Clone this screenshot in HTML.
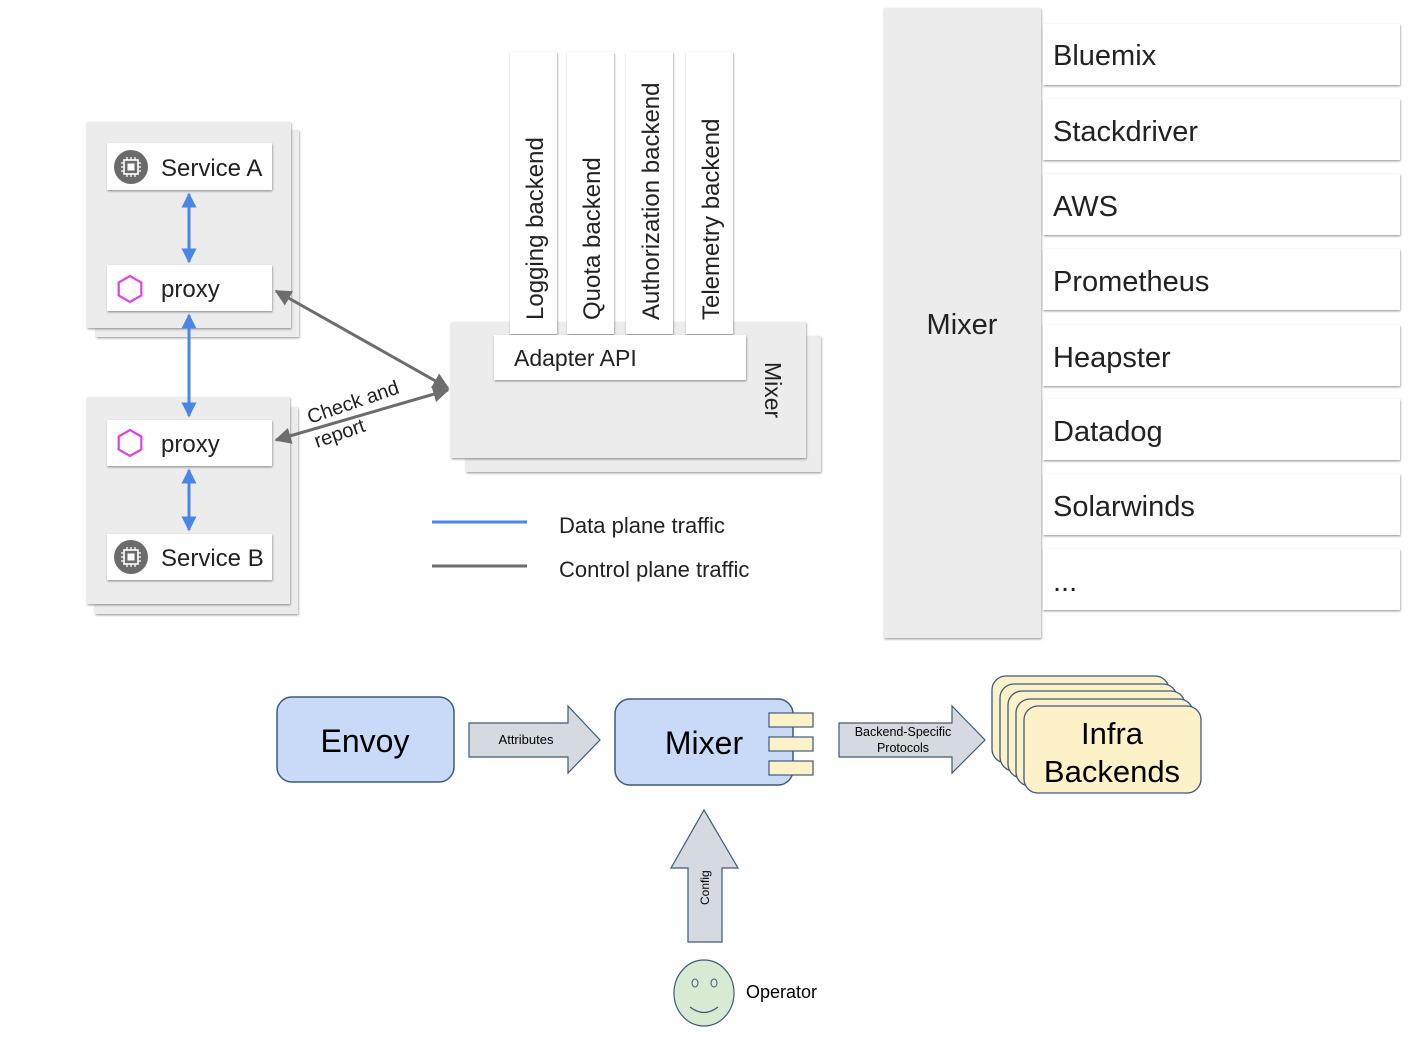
<!DOCTYPE html>
<html><head><meta charset="utf-8"><style>
html,body{margin:0;padding:0;background:#fff}
svg{display:block}
text{font-family:"Liberation Sans",sans-serif;fill:#222}
</style></head><body>
<svg width="1422" height="1057" viewBox="0 0 1422 1057" xmlns="http://www.w3.org/2000/svg">
<defs>
<filter id="sh" x="-10%" y="-10%" width="120%" height="120%"><feDropShadow dx="0.5" dy="1.2" stdDeviation="1" flood-color="#000" flood-opacity="0.4"/></filter>
<marker id="ab" viewBox="0 0 10 10" refX="9" refY="5" markerWidth="5" markerHeight="5" orient="auto-start-reverse"><path d="M0,0L10,5L0,10z" fill="#4a86e8"/></marker>
<marker id="ag" viewBox="0 0 10 10" refX="9" refY="5" markerWidth="5.5" markerHeight="5.5" orient="auto-start-reverse"><path d="M0,0L10,5L0,10z" fill="#6d6d6d"/></marker>
<g id="chip"><circle r="17" fill="#6b6b6b"/><rect x="-7" y="-7" width="14" height="14" fill="none" stroke="#fff" stroke-width="1.6"/><rect x="-3.5" y="-3.5" width="7" height="7" fill="#fff"/><path d="M-4,-10v3M0,-10v3M4,-10v3M-4,7v3M0,7v3M4,7v3M-10,-4h3M-10,0h3M-10,4h3M7,-4h3M7,0h3M7,4h3" stroke="#fff" stroke-width="1.3"/></g>
<g id="hex"><polygon points="0,-13 11.3,-6.5 11.3,6.5 0,13 -11.3,6.5 -11.3,-6.5" fill="none" stroke="#e040e8" stroke-width="2.2"/></g>
</defs>

<rect x="96" y="130" width="203" height="207" fill="#ececec" filter="url(#sh)"/>
<rect x="87" y="122" width="204" height="206" fill="#ececec" filter="url(#sh)"/>
<rect x="95" y="407" width="203" height="207" fill="#ececec" filter="url(#sh)"/>
<rect x="87" y="397" width="203" height="207" fill="#ececec" filter="url(#sh)"/>

<rect x="107" y="143" width="165" height="47" fill="#fff" filter="url(#sh)"/>
<use href="#chip" x="131" y="167"/>
<text x="161" y="176" font-size="24">Service A</text>
<rect x="107" y="265" width="165" height="46" fill="#fff" filter="url(#sh)"/>
<use href="#hex" x="130" y="289"/>
<text x="161" y="297" font-size="24">proxy</text>
<rect x="107" y="420" width="165" height="46" fill="#fff" filter="url(#sh)"/>
<use href="#hex" x="130" y="443"/>
<text x="161" y="452" font-size="24">proxy</text>
<rect x="107" y="534" width="165" height="46" fill="#fff" filter="url(#sh)"/>
<use href="#chip" x="131" y="557"/>
<text x="161" y="566" font-size="24">Service B</text>

<g stroke="#4a86e8" stroke-width="3" fill="none">
<line x1="189" y1="194" x2="189" y2="262" marker-start="url(#ab)" marker-end="url(#ab)"/>
<line x1="189" y1="315" x2="189" y2="416" marker-start="url(#ab)" marker-end="url(#ab)"/>
<line x1="189" y1="470" x2="189" y2="530" marker-start="url(#ab)" marker-end="url(#ab)"/>
</g>
<g stroke="#6d6d6d" stroke-width="3" fill="none">
<line x1="276" y1="291" x2="448" y2="388" marker-start="url(#ag)" marker-end="url(#ag)"/>
<line x1="276" y1="440" x2="448" y2="390" marker-start="url(#ag)" marker-end="url(#ag)"/>
</g>
<text x="0" y="0" font-size="20" transform="translate(310,424) rotate(-19)">Check and</text>
<text x="0" y="0" font-size="20" transform="translate(317,448) rotate(-19)">report</text>

<rect x="466" y="336" width="355" height="136" fill="#ececec" filter="url(#sh)"/>
<rect x="451" y="322" width="355" height="136" fill="#ececec" filter="url(#sh)"/>
<g filter="url(#sh)" fill="#fff">
<rect x="510" y="52" width="47" height="282"/>
<rect x="567" y="52" width="47" height="282"/>
<rect x="626" y="52" width="47" height="282"/>
<rect x="686" y="52" width="47" height="282"/>
</g>
<g font-size="24">
<text transform="translate(543,320) rotate(-90)">Logging backend</text>
<text transform="translate(600,320) rotate(-90)">Quota backend</text>
<text transform="translate(659,320) rotate(-90)">Authorization backend</text>
<text transform="translate(719,320) rotate(-90)">Telemetry backend</text>
</g>
<rect x="494" y="335" width="252" height="45" fill="#fff" filter="url(#sh)"/>
<text x="514" y="366" font-size="23">Adapter API</text>
<text transform="translate(765,362) rotate(90)" font-size="23">Mixer</text>

<line x1="432" y1="522" x2="527" y2="522" stroke="#4a86e8" stroke-width="3"/>
<line x1="432" y1="566" x2="527" y2="566" stroke="#6d6d6d" stroke-width="3"/>
<text x="559" y="533" font-size="22">Data plane traffic</text>
<text x="559" y="577" font-size="22">Control plane traffic</text>

<rect x="884" y="8" width="157" height="630" fill="#ececec" filter="url(#sh)"/>
<text x="962" y="334" font-size="29" text-anchor="middle">Mixer</text>
<g filter="url(#sh)" fill="#fff">
<rect x="1043" y="24" width="357" height="61"/>
<rect x="1043" y="99" width="357" height="61"/>
<rect x="1043" y="174" width="357" height="61"/>
<rect x="1043" y="249" width="357" height="61"/>
<rect x="1043" y="325" width="357" height="61"/>
<rect x="1043" y="399" width="357" height="61"/>
<rect x="1043" y="474" width="357" height="61"/>
<rect x="1043" y="549" width="357" height="61"/>
</g>
<g font-size="29">
<text x="1053" y="65">Bluemix</text>
<text x="1053" y="141">Stackdriver</text>
<text x="1053" y="216">AWS</text>
<text x="1053" y="291">Prometheus</text>
<text x="1053" y="367">Heapster</text>
<text x="1053" y="441">Datadog</text>
<text x="1053" y="516">Solarwinds</text>
<text x="1053" y="591">...</text>
</g>

<rect x="277" y="697" width="177" height="85" rx="15" fill="#c9daf8" stroke="#3d5a80" stroke-width="1.5"/>
<text x="365" y="752" font-size="32" text-anchor="middle" style="fill:#000">Envoy</text>
<path d="M469,723H568V706L600,740L568,773V757H469Z" fill="#d4dadf" stroke="#3d5a80" stroke-width="1.2"/>
<text x="526" y="744" font-size="13" text-anchor="middle" style="fill:#000">Attributes</text>
<rect x="615" y="699" width="178" height="86" rx="15" fill="#c9daf8" stroke="#3d5a80" stroke-width="1.5"/>
<text x="704" y="754" font-size="32" text-anchor="middle" style="fill:#000">Mixer</text>
<g fill="#fdf1c8" stroke="#3d5a80" stroke-width="1.2">
<rect x="769" y="713" width="44" height="14"/><rect x="769" y="737" width="44" height="14"/><rect x="769" y="761" width="44" height="14"/>
</g>
<path d="M839,723H952V706L985,740L952,773V757H839Z" fill="#d4dadf" stroke="#3d5a80" stroke-width="1.2"/>
<text x="903" y="736" font-size="12.5" text-anchor="middle" style="fill:#000">Backend-Specific</text>
<text x="903" y="752" font-size="12.5" text-anchor="middle" style="fill:#000">Protocols</text>
<g fill="#fdf1c8" stroke="#3d5a80" stroke-width="1.3">
<rect x="992" y="676" width="177" height="87" rx="14"/>
<rect x="1000" y="684" width="177" height="87" rx="14"/>
<rect x="1008" y="691" width="177" height="87" rx="14"/>
<rect x="1016" y="699" width="177" height="87" rx="14"/>
<rect x="1024" y="706" width="177" height="87" rx="14"/>
</g>
<text x="1112" y="744" font-size="31" text-anchor="middle" style="fill:#000">Infra</text>
<text x="1112" y="782" font-size="31" text-anchor="middle" style="fill:#000">Backends</text>
<path d="M688,942V868H671L704,810L738,868H722V942Z" fill="#d4dadf" stroke="#3d5a80" stroke-width="1.2"/>
<text transform="translate(709,905) rotate(-90)" font-size="12" style="fill:#000">Config</text>
<ellipse cx="704" cy="993" rx="30" ry="33" fill="#d9ead3" stroke="#3d5a80" stroke-width="1.2"/>
<ellipse cx="695" cy="983" rx="3" ry="4" fill="none" stroke="#3d5a80"/>
<ellipse cx="714" cy="983" rx="3" ry="4" fill="none" stroke="#3d5a80"/>
<path d="M690,1007Q704,1018 718,1007" fill="none" stroke="#3d5a80" stroke-width="1.3"/>
<text x="746" y="998" font-size="18" style="fill:#000">Operator</text>
</svg>
</body></html>
